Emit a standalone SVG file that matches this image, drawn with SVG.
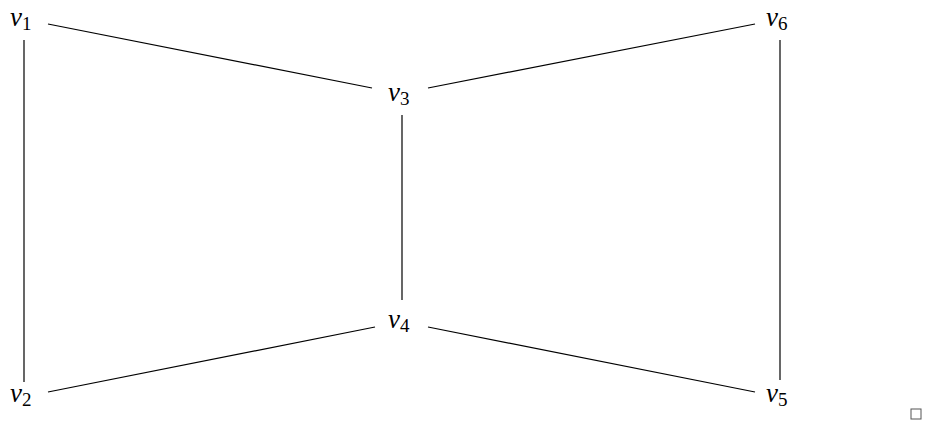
<svg xmlns="http://www.w3.org/2000/svg" width="932" height="425" viewBox="0 0 932 425">
<style>
.e{stroke:#000;stroke-width:1.2;fill:none}
.v{font-family:"Liberation Serif","DejaVu Serif",serif;font-style:italic;font-size:27px;fill:#000}
.s{font-family:"Liberation Serif","DejaVu Serif",serif;font-style:normal;font-size:19px}
</style>
<rect width="932" height="425" fill="#fff"/>
<g id="edges">
<line class="e" x1="24" y1="40" x2="24" y2="382"/>
<line class="e" x1="48" y1="24" x2="372" y2="88"/>
<line class="e" x1="428" y1="88" x2="755" y2="24"/>
<line class="e" x1="402" y1="115" x2="402" y2="300"/>
<line class="e" x1="375" y1="327" x2="48" y2="392"/>
<line class="e" x1="428" y1="327" x2="755" y2="392"/>
<line class="e" x1="780" y1="40" x2="780" y2="380"/>
</g>
<g id="v1"><text class="v" x="10" y="26">v<tspan class="s" dy="4">1</tspan></text></g>
<g id="v2"><text class="v" x="10" y="402">v<tspan class="s" dy="4">2</tspan></text></g>
<g id="v3"><text class="v" x="388" y="101">v<tspan class="s" dy="4">3</tspan></text></g>
<g id="v4"><text class="v" x="388" y="328">v<tspan class="s" dy="4">4</tspan></text></g>
<g id="v5"><text class="v" x="766" y="402">v<tspan class="s" dy="4">5</tspan></text></g>
<g id="v6"><text class="v" x="766" y="26">v<tspan class="s" dy="4">6</tspan></text></g>
<rect x="911" y="409" width="10" height="10" fill="none" stroke="#555" stroke-width="1"/>
</svg>
